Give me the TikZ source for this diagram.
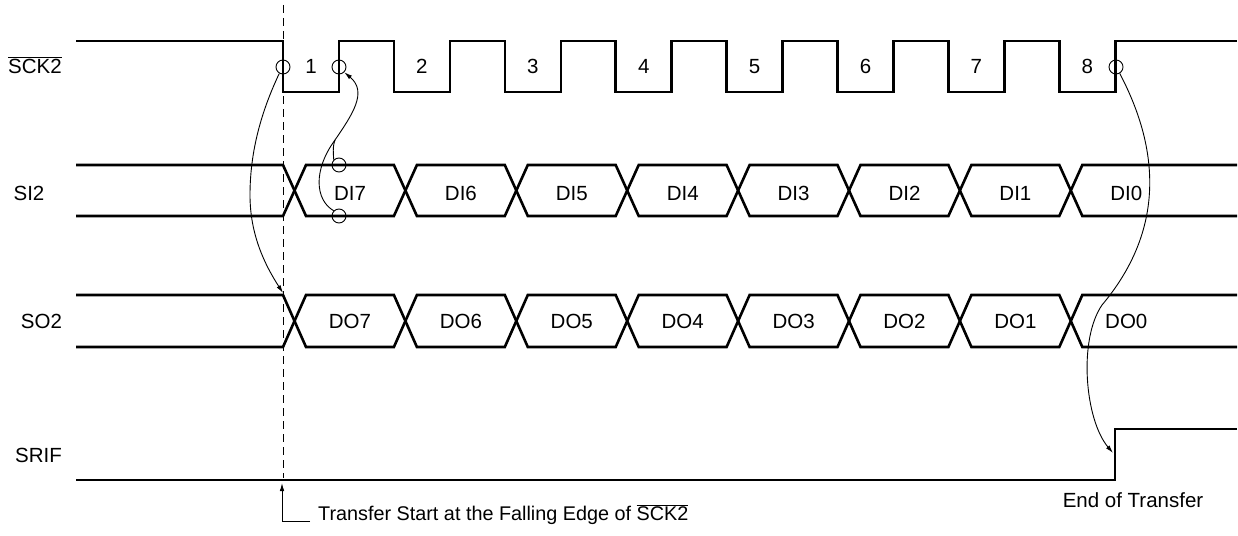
\documentclass[tikz,border=0pt]{standalone}
\usepackage{fontspec}
\setmainfont{Liberation Sans}
\usetikzlibrary{arrows.meta}
% bus waveform: #1 = level the path starts on, #2 = the other level
\newcommand\buswave[2]{%
  \draw[sig] (76,#1) foreach \j in {0,...,3} {
      -- ({283+221.8*\j},#1) -- ({306+221.8*\j},#2)
      -- ({393.9+221.8*\j},#2) -- ({416.9+221.8*\j},#1) } -- (1237,#1);}
\begin{document}
\begin{tikzpicture}[x=1pt,y=-1pt,
  sig/.style={line width=2.6pt},
  link/.style={line width=0.9pt},
  ring/.style={circle,draw,line width=0.9pt,minimum size=14pt,inner sep=0pt},
  lbl/.style={inner sep=0pt,anchor=base,font=\fontsize{20.5}{25}\selectfont},
  arr/.style={-{Latex[length=8pt,width=4.5pt]}}]
\useasboundingbox (0,0) rectangle (1238,535);

% signal names
\node[lbl] (lsck) at (35,73) {$\overline{\mbox{SCK2}}$};
\node[lbl] (lsi) at (29,200) {SI2};
\node[lbl] (lso) at (41.5,328) {SO2};
\node[lbl] (lsrif) at (38.5,462) {SRIF};

% SCK2 clock
\draw[sig] (76,41) foreach \k in {0,...,7} {
   -- ({283+110.9*\k},41) -- ({283+110.9*\k},92)
   -- ({339+110.9*\k},92) -- ({339+110.9*\k},41) } -- (1237,41);
\foreach \k in {0,...,7}{
  \pgfmathtruncatemacro\n{\k+1}
  \node[lbl] (num\n) at ({311+110.9*\k},74) {\n};
}

% SI2 and SO2 buses
\buswave{165}{216}
\buswave{216}{165}
\buswave{295}{347}
\buswave{347}{295}
\foreach \k in {0,...,7}{
  \pgfmathtruncatemacro\n{7-\k}
  \node[lbl] (di\n) at ({350+110.9*\k},200) {DI\n};
  \node[lbl] (do\n) at ({350+110.9*\k},328) {DO\n};
}

% SRIF
\draw[sig] (76,480) -- (1115,480) -- (1115,429) -- (1237,429);

% dashed marker
\draw[link,dash pattern=on 8pt off 5pt] (283,5) -- (283,478);

% edge rings
\node[ring] (s0) at (283,67) {};
\node[ring] (s1) at (339,67) {};
\node[ring] (s8) at (1116,67) {};
\node[ring] (dit) at (339,165) {};
\node[ring] (dib) at (339,216) {};

% connectors
\coordinate (so7) at (283,293);
\coordinate (srifup) at (1113,453);
\coordinate (mrg) at (335,140);
\draw[link,arr] (s0.240) .. controls (262,110) and (250,150) .. (250,195)
   .. controls (250,235) and (265,265) .. (so7);
\draw[link,arr] (dib.135) .. controls (315,200) and (313,170) .. (mrg)
   .. controls (352,115) and (368,92) .. (s1.-45);
\draw[link] (dit.135) .. controls (333,150) and (333,145) .. (mrg);
\draw[link,arr] (s8.-60) .. controls (1160,150) and (1165,230) .. (1102,305)
   .. controls (1078,340) and (1085,420) .. (srifup);

% annotations
\node[lbl] (eot) at (1133,507) {End of Transfer};
\node[lbl,anchor=base west,font=\fontsize{19.8}{24}\selectfont] (ts) at (318,520) {Transfer Start at the Falling Edge of $\overline{\mbox{SCK2}}$};
\coordinate (tscorner) at (282,521.5);
\coordinate (tsup) at (282,483);
\draw[link,arr] (310,521.5) -- (tscorner) -- (tsup);
\end{tikzpicture}
\end{document}
